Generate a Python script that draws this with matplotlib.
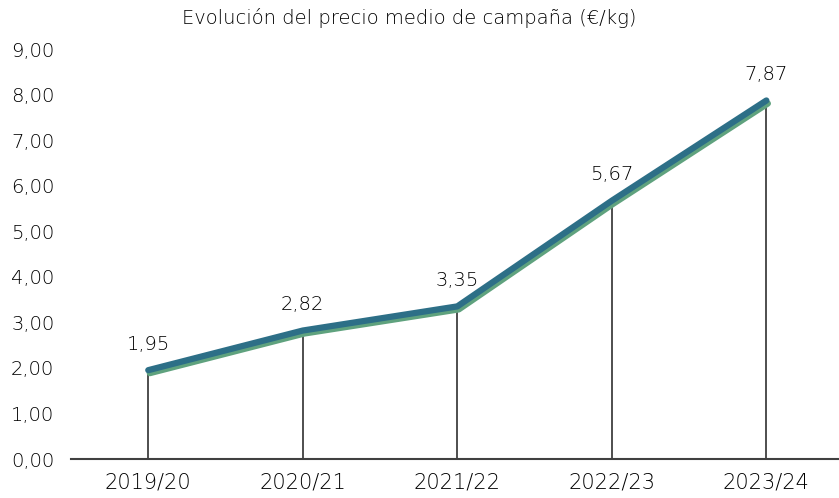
import matplotlib
matplotlib.use("Agg")
import matplotlib.pyplot as plt
import matplotlib.transforms as mtransforms

plt.rcParams['font.family'] = ['DejaVu Sans']
plt.rcParams['font.weight'] = 'light'

categories = ["2019/20", "2020/21", "2021/22", "2022/23", "2023/24"]
values = [1.95, 2.82, 3.35, 5.67, 7.87]
title = "Evolución del precio medio de campaña (€/kg)"

fig = plt.figure(figsize=(8.39, 4.98), dpi=100)
ax = fig.add_axes([71/839, (498-459)/498, (839-71)/839, (459-49)/498])

x = list(range(len(categories)))
txt = "#000000"

# drop lines
ax.vlines(x, 0, values, color="#404040", linewidth=1.3, zorder=2)

# shadow line
shadow = mtransforms.offset_copy(ax.transData, fig=fig, x=1.5, y=-3, units='dots')
ax.plot(x, values, color="#5FA27E", linewidth=4.5, solid_capstyle='round',
        transform=shadow, zorder=3)
ax.plot(x, values, color="#2D6F87", linewidth=4.5, solid_capstyle='round', zorder=4)

for xi, v in zip(x, values):
    ax.annotate(f"{v:.2f}".replace('.', ','), (xi, v), xytext=(0, 12),
                textcoords='offset points', ha='center', va='bottom',
                fontsize=14, color=txt)

ax.set_xlim(-0.5, 4.47)
ax.set_ylim(0, 9)
ax.set_yticks(range(0, 10))
ax.set_yticklabels([f"{t},00" for t in range(0, 10)], fontsize=14, color=txt)
ax.set_xticks(x)
ax.set_xticklabels(categories, fontsize=15, color=txt)
ax.tick_params(axis='both', length=0)
ax.tick_params(axis='x', pad=10)
ax.tick_params(axis='y', pad=12)

for s in ['top', 'right', 'left']:
    ax.spines[s].set_visible(False)
ax.spines['bottom'].set_color("#404040")
ax.spines['bottom'].set_linewidth(1.5)

fig.text(409/839, 1 - 18/498, title, ha='center', va='center', fontsize=14, color=txt)

fig.savefig("out.png", dpi=100)
